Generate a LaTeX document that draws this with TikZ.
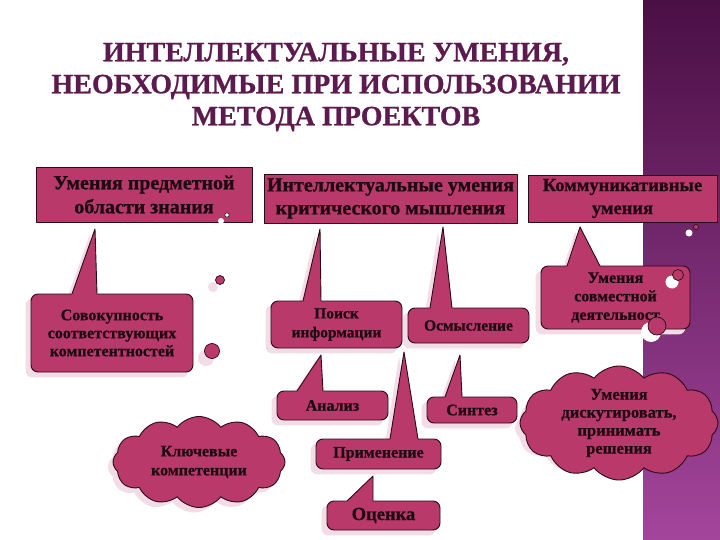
\documentclass[tikz,border=0pt]{standalone}
\usepackage{fontspec}
\setmainfont{Liberation Serif}[BoldFeatures={FakeBold=0.8}]
\usetikzlibrary{shapes.symbols,calc}
\definecolor{rasp}{HTML}{B93A6A}
\definecolor{edgec}{HTML}{2A0A18}
\definecolor{shpink}{HTML}{F2DCE6}
\definecolor{titlec}{HTML}{5C1A4E}
\definecolor{stripTop}{HTML}{4A0F45}
\definecolor{stripBot}{HTML}{A4459C}
\definecolor{txt}{HTML}{1E0A12}
\pgfdeclarelayer{strip}\pgfdeclarelayer{shade}
\pgfsetlayers{strip,shade,main}
\newcommand\myfs[2]{\fontsize{#1}{#2}\selectfont\bfseries}
\newcommand\myptr[3]{%
  \fill[rasp] (#1) -- (#2) -- ($(#2)+(0.6,1.8)$) -- ($(#3)+(-0.6,1.8)$) -- (#3) -- cycle;
  \draw[edgeline] (#2) -- (#1) -- (#3);}
\newcommand\myptrshadow[3]{%
  \fill[shpink] ($(#1)+(-5,5)$) -- ($(#2)+(-5,5)$) -- ($(#3)+(-5,5)$) -- cycle;}
\tikzset{
  edgeline/.style={draw=edgec, line width=0.9pt, line join=round},
  body/.style={fill=rasp, edgeline, text=txt, align=center, inner sep=0pt},
  topbox/.style={body, rectangle},
  callbox/.style={body, rectangle, rounded corners=7pt},
  cloudshape/.style={cloud, cloud ignores aspect, cloud puff arc=105, inner sep=0pt},
  cloudbox/.style={body, cloudshape},
  dot/.style={fill=rasp, edgeline, line width=0.7pt},
}
\begin{document}
\begin{tikzpicture}[x=1pt,y=-1pt]
\useasboundingbox (0,0) rectangle (720,540);
\begin{pgfonlayer}{strip}
  \fill[white] (0,0) rectangle (720,540);
  \shade[top color=stripTop, bottom color=stripBot] (643,0) rectangle (720,540);
\end{pgfonlayer}

% title
\node[text=titlec, align=center, font=\myfs{28}{32}] (title) at (336,87)
  {ИНТЕЛЛЕКТУАЛЬНЫЕ УМЕНИЯ,\\НЕОБХОДИМЫЕ ПРИ ИСПОЛЬЗОВАНИИ\\МЕТОДА ПРОЕКТОВ};

% top boxes
\node[topbox, minimum width=216pt, minimum height=55pt, font=\myfs{20}{24}] (A) at (144,194.5)
  {Умения предметной\\области знания};
\node[topbox, minimum width=253pt, minimum height=49pt, font=\myfs{20}{23}] (B) at (390.5,198.5)
  {Интеллектуальные умения\\критического мышления};
\node[topbox, minimum width=189pt, minimum height=47pt, font=\myfs{18.5}{23}] (C) at (622.5,198.5)
  {Коммуникативные\\умения};

% callout boxes
\node[callbox, minimum width=162pt, minimum height=78pt, font=\myfs{16}{18}] (pA) at (112,333)
  {Совокупность\\соответствующих\\компетентностей};
\node[callbox, minimum width=131pt, minimum height=47pt, font=\myfs{15.5}{19}] (pB1) at (336.5,324.5)
  {Поиск\\информации};
\node[callbox, minimum width=121pt, minimum height=35pt, font=\myfs{15.5}{18}] (pB2) at (468.5,325.5)
  {Осмысление};
\node[callbox, minimum width=149pt, minimum height=63pt, font=\myfs{16}{18.5}] (pC) at (615.5,297.5)
  {Умения\\совместной\\деятельност};
\node[callbox, minimum width=111pt, minimum height=29pt, font=\myfs{16}{18}] (an) at (332.5,405.5)
  {Анализ};
\node[callbox, minimum width=125pt, minimum height=30pt, font=\myfs{16}{18}] (pr) at (378.5,454)
  {Применение};
\node[callbox, minimum width=113pt, minimum height=29pt, font=\myfs{18.5}{18}] (oc) at (383.5,515.5)
  {Оценка};
\node[callbox, minimum width=90pt, minimum height=26pt, font=\myfs{16}{18}] (si) at (472,410)
  {Синтез};

% clouds
\node[cloudbox, cloud puffs=12, minimum width=172pt, minimum height=91pt, font=\myfs{16}{19}] (kc) at (199,462)
  {Ключевые\\компетенции};
\node[cloudbox, cloud puffs=12, minimum width=198pt, minimum height=98pt, font=\myfs{16.5}{18}] (dc) at (619,423)
  {Умения\\дискутировать,\\принимать\\решения};

% pointer coordinates
\coordinate (tA) at (95,229);   \coordinate (a1) at (72,294);  \coordinate (a2) at (97,294);
\coordinate (tB1) at (320,229); \coordinate (b1) at (303,301); \coordinate (b2) at (321,301);
\coordinate (tB2) at (443,227); \coordinate (c1) at (430,308); \coordinate (c2) at (452,308);
\coordinate (tC) at (580,227);  \coordinate (d1) at (567,266); \coordinate (d2) at (600,266);
\coordinate (tAn) at (321,355); \coordinate (e1) at (297,391); \coordinate (e2) at (323,391);
\coordinate (tPr) at (404,352); \coordinate (f1) at (390,439); \coordinate (f2) at (418,439);
\coordinate (tSi) at (460,355); \coordinate (g1) at (445,397); \coordinate (g2) at (462,397);
\coordinate (tOc) at (373,476); \coordinate (h1) at (347,501); \coordinate (h2) at (373,501);

\myptr{tA}{a1}{a2}
\myptr{tB1}{b1}{b2}
\myptr{tB2}{c1}{c2}
\myptr{tC}{d1}{d2}
\myptr{tAn}{e1}{e2}
\myptr{tPr}{f1}{f2}
\myptr{tSi}{g1}{g2}
\myptr{tOc}{h1}{h2}

% shadows
\begin{pgfonlayer}{shade}
  \foreach \n in {pA,pB1,pB2,pC,an,pr,oc,si}
    \fill[shpink, rounded corners=7pt] ($(\n.south west)+(-5,5)$) rectangle ($(\n.north east)+(-5,5)$);
  \myptrshadow{tA}{a1}{a2}
  \myptrshadow{tB1}{b1}{b2}
  \myptrshadow{tB2}{c1}{c2}
  \myptrshadow{tC}{d1}{d2}
  \myptrshadow{tAn}{e1}{e2}
  \myptrshadow{tPr}{f1}{f2}
  \myptrshadow{tSi}{g1}{g2}
  \myptrshadow{tOc}{h1}{h2}
  \node[cloudshape, cloud puffs=12, minimum width=172pt, minimum height=91pt, fill=shpink] (kcs) at (194,467) {};
  \node[cloudshape, cloud puffs=12, minimum width=198pt, minimum height=98pt, fill=shpink] (dcs) at (614,428) {};
  \fill[shpink] (213,287) circle (5);
  \fill[shpink] (206,358) circle (8);
\end{pgfonlayer}

% decorative bubbles
\fill[white] (221,221) circle (3);
\draw[edgeline, line width=0.6pt, fill=white] (227,215) circle (2.2);
\draw[dot] (220,280) circle (4.5);
\draw[dot] (212,351) circle (7.5);
\fill[white] (689,233) circle (3.5);
\draw[dot, line width=0.6pt] (696,227) circle (2.5);
\fill[white] (672,282) circle (6.5);
\draw[dot] (678,275) circle (5.5);
\fill[white] (651,332) circle (10);
\draw[dot] (657,326) circle (9);
\end{tikzpicture}
\end{document}
